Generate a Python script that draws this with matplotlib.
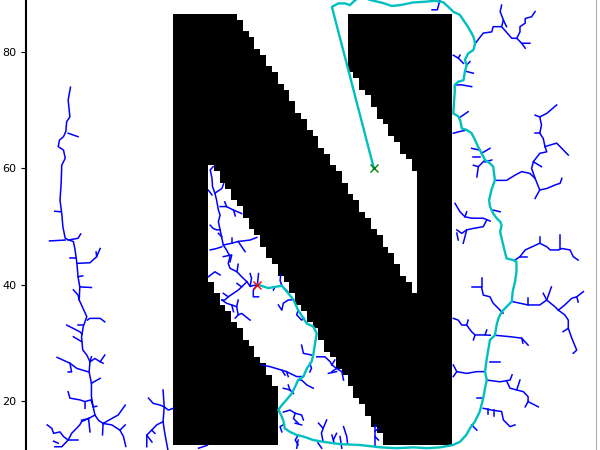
import numpy as np
import matplotlib.pyplot as plt
from matplotlib.path import Path

# occupancy grid: a letter N on a 100 x 100 map, 1 unit per cell
grid_size = 100
n_box = (25.5, 73.5, 12.5, 86.5)  # x0, x1, y0, y1 of the letter
upper_gap = [(35.4, 88.0), (55.5, 88.0), (55.5, 77.7), (67.5, 58.7), (67.5, 38.0)]
lower_gap = [(31.5, 60.6), (31.5, 40.8), (43.5, 22.2), (43.5, 10.0), (63.7, 10.0), (32.3, 60.6)]

start = (40, 40)
goal = (60, 60)

# final path found by the planner (start -> goal)
path_pts = [(40.0, 40.0), (41.9, 39.4), (43.0, 39.6), (44.2, 39.8), (45.3, 38.5), (46.2, 37.4),
            (47.0, 35.6), (48.5, 33.3), (49.6, 32.8), (50.2, 31.6), (49.9, 29.9), (49.6, 27.9),
            (49.3, 26.75), (48.5, 25.6), (47.9, 24.2), (47.0, 23.6), (46.5, 22.5), (45.9, 21.3),
            (45.0, 20.2), (44.2, 19.3), (43.6, 18.5), (44.2, 17.3), (44.5, 16.45), (44.7, 15.3),
            (45.6, 14.7), (46.75, 14.17), (47.9, 13.9), (49.6, 13.3), (51.3, 13.0), (54.2, 12.6),
            (57.6, 12.45), (61.1, 12.05), (63.9, 11.9), (66.8, 12.05), (69.1, 11.9), (71.4, 12.05),
            (73.6, 12.45), (74.8, 13.0), (75.9, 14.2), (76.5, 15.3), (77.35, 16.45), (78.2, 18.2),
            (78.8, 20.5), (79.1, 22.2), (79.4, 23.6), (79.1, 25.05), (79.4, 27.3), (79.7, 29.05),
            (79.95, 30.5), (80.8, 31.3), (81.1, 33.1), (81.4, 34.2), (82.0, 35.35), (82.8, 36.2),
            (83.7, 37.1), (83.85, 38.8), (84.25, 40.5), (84.5, 42.2), (84.5, 43.9), (83.95, 44.2),
            (82.8, 44.5), (82.5, 45.65), (81.95, 47.95), (81.7, 49.1), (81.95, 50.2), (81.7, 50.8),
            (81.1, 51.4), (80.5, 52.2), (79.95, 53.4), (79.8, 54.5), (80.2, 56.25), (80.8, 57.96),
            (80.5, 60.25), (79.95, 60.83), (79.1, 61.4), (78.5, 62.55), (77.9, 63.7), (77.4, 64.8),
            (76.8, 66.0), (75.95, 66.55), (75.1, 66.85), (74.9, 68.0), (74.5, 68.9), (73.65, 69.4),
            (73.8, 71.7), (73.9, 73.1), (73.9, 74.3), (74.5, 74.85), (75.4, 75.1), (75.65, 76.6),
            (75.95, 77.7), (75.65, 78.6), (76.2, 79.7), (77.1, 80.3), (77.4, 81.4), (77.1, 82.6),
            (76.5, 83.7), (75.95, 84.6), (75.4, 85.4), (74.8, 86.3), (73.65, 86.87), (72.8, 87.7),
            (71.9, 88.5), (70.5, 88.75), (69.0, 88.6), (66.7, 88.45), (64.5, 88.0), (63.1, 87.85),
            (61.6, 88.36), (59.3, 88.9), (57.8, 89.6), (56.5, 88.6), (55.9, 88.0), (55.05, 88.3),
            (53.9, 88.3), (52.8, 87.7), (60.0, 60.0)]

# tree branches, left of the letter
tree_left = [
    [(7.9, 73.9), (7.5, 71.7), (7.8, 68.8), (7.25, 68.0), (7.1, 66.3), (6.7, 65.4), (6.0, 64.8),
     (5.8, 63.7), (6.7, 63.1), (7.0, 61.7), (6.4, 60.5), (6.3, 57.4), (6.1, 54.5), (6.4, 52.2),
     (6.6, 49.9), (7.0, 47.95), (7.5, 47.7), (8.4, 47.4), (8.7, 45.9), (9.0, 43.65), (9.2, 41.35),
     (9.5, 39.6), (9.4, 37.35), (10.7, 34.5), (10.1, 32.8), (9.8, 31.0), (10.0, 28.8), (10.7, 27.9),
     (11.25, 26.75), (11.1, 25.0), (11.5, 23.05), (11.5, 20.75), (11.8, 19.0), (12.1, 17.6),
     (12.7, 16.7), (13.5, 16.15)],
    [(7.5, 66.0), (9.2, 65.4)],
    [(5.2, 52.6), (6.3, 52.5)],
    [(4.3, 47.5), (7.0, 47.65)],
    [(7.5, 47.65), (9.2, 47.95), (9.65, 48.7)],
    [(7.8, 44.5), (8.85, 44.5)],
    [(9.1, 43.65), (11.25, 43.75), (12.4, 44.8), (13.0, 46.2)],
    [(12.4, 44.8), (12.3, 45.6)],
    [(9.2, 41.35), (10.0, 41.5)],
    [(9.5, 39.6), (11.5, 39.5)],
    [(8.4, 39.1), (9.2, 38.2), (9.4, 37.35)],
    [(10.8, 33.9), (11.25, 34.2), (13.0, 34.2), (13.8, 33.6)],
    [(7.25, 33.05), (9.5, 31.9), (9.9, 31.5)],
    [(9.2, 33.05), (10.0, 33.05)],
    [(8.4, 31.05), (9.8, 30.2)],
    [(5.6, 27.5), (7.8, 26.5), (9.0, 25.6), (11.0, 25.0)],
    [(7.8, 26.5), (8.1, 25.0), (7.5, 25.0)],
    [(11.25, 26.75), (12.1, 27.3), (13.0, 26.75), (13.8, 27.9)],
    [(13.0, 26.75), (13.5, 26.5)],
    [(11.25, 26.75), (11.5, 27.6)],
    [(11.5, 23.05), (13.0, 23.9)],
    [(7.5, 21.6), (7.8, 20.5), (9.5, 20.2), (10.4, 19.9), (10.4, 18.75)],
    [(10.4, 19.9), (11.4, 20.2), (11.8, 19.0)],
    [(11.8, 19.0), (12.4, 19.1)],
    [(12.1, 17.6), (11.0, 17.0), (9.8, 16.7)],
    [(11.0, 17.0), (11.25, 14.7)],
    [(3.9, 15.9), (4.7, 15.3), (5.0, 14.45), (6.1, 14.7), (6.7, 13.9), (7.5, 13.3), (8.1, 14.45),
     (9.5, 15.9), (9.8, 16.45), (11.0, 17.0)],
    [(7.5, 13.3), (6.4, 12.15), (5.2, 12.15)],
    [(7.5, 13.3), (9.2, 13.3)],
    [(5.8, 12.75), (5.0, 13.1)],
    [(13.5, 16.15), (15.0, 17.0), (16.1, 17.6), (17.3, 19.3)],
    [(13.5, 16.15), (13.4, 14.2)],
    [(13.5, 16.15), (15.0, 15.9), (16.4, 15.0), (17.0, 13.9), (17.4, 12.2)],
    [(16.4, 15.0), (17.3, 15.9)],
    # small cluster under the left stem
    [(23.8, 21.9), (24.0, 19.0), (24.7, 18.45), (25.55, 18.75)],
    [(21.3, 20.5), (22.1, 19.6), (23.3, 19.3), (24.0, 19.0)],
    [(24.0, 19.0), (23.8, 16.45), (22.7, 15.9), (21.85, 15.0), (21.0, 14.15), (21.0, 12.15)],
    [(23.8, 16.45), (24.1, 14.45), (24.65, 11.5)],
    [(21.85, 15.0), (22.4, 14.45)],
    [(21.0, 14.15), (21.9, 12.95)],
    [(29.9, 11.9), (31.4, 12.4)],
]

# tree branches inside the lower gap of the N
tree_gap = [
    [(40.0, 40.0), (38.75, 39.7), (38.2, 40.5), (37.3, 41.35), (36.5, 42.2), (35.3, 42.8),
     (35.0, 43.65), (35.3, 44.8), (34.7, 45.95), (34.15, 46.8), (33.9, 47.95), (33.6, 49.4),
     (33.3, 50.8), (33.6, 51.95), (33.3, 52.8), (33.0, 54.5), (32.7, 55.7), (32.3, 56.8),
     (32.2, 58.25), (31.9, 59.7), (32.4, 60.25)],
    [(32.7, 55.7), (33.9, 56.5), (34.2, 57.3)],
    [(31.6, 56.2), (32.2, 55.4)],
    [(33.6, 53.4), (34.7, 53.4), (35.9, 52.8), (37.3, 52.2)],
    [(34.7, 53.4), (34.4, 54.2)],
    [(35.9, 52.8), (36.2, 51.8)],
    [(31.9, 50.2), (32.4, 49.65), (33.0, 49.4), (33.6, 49.4)],
    [(33.3, 48.8), (33.9, 48.2)],
    [(34.15, 46.8), (35.6, 47.1), (36.7, 47.4), (38.75, 47.65), (39.9, 48.1)],
    [(36.7, 47.4), (37.9, 45.65)],
    [(35.6, 47.1), (35.6, 47.95)],
    [(31.9, 45.95), (33.0, 46.2), (33.9, 46.5)],
    [(34.15, 44.8), (35.6, 45.1), (35.3, 43.9)],
    [(31.6, 41.35), (32.7, 42.2), (33.6, 41.65)],
    [(36.5, 42.2), (36.7, 43.5)],
    [(38.2, 40.5), (37.3, 39.6), (36.7, 39.05), (35.0, 37.9)],
    [(37.3, 39.6), (36.5, 40.2)],
    [(34.15, 38.5), (35.0, 37.9), (34.4, 37.35), (33.9, 37.35)],
    [(40.0, 40.0), (39.3, 39.05), (39.3, 37.9), (40.2, 37.9)],
    [(40.0, 40.0), (40.2, 41.9)],
    [(38.75, 39.7), (39.0, 41.1), (38.75, 41.9)],
    [(43.0, 39.6), (42.75, 39.05)],
    [(44.2, 39.8), (43.9, 40.7), (44.0, 41.6)],
    [(44.7, 39.3), (45.2, 38.8)],
    [(33.9, 37.35), (34.7, 36.8), (35.6, 36.5), (35.9, 35.35)],
    [(35.6, 36.5), (36.45, 36.2), (36.7, 37.35)],
    [(36.45, 36.2), (36.7, 34.8), (37.3, 35.05), (38.75, 33.9)],
    [(36.7, 34.8), (36.2, 34.25)],
    [(43.6, 36.5), (44.2, 35.6), (44.45, 36.8), (45.3, 37.35), (46.2, 37.4)],
    [(47.0, 35.6), (46.75, 34.8), (47.6, 33.9), (48.0, 34.25)],
    [(47.6, 29.6), (47.9, 28.2), (49.3, 27.9)],
    [(49.0, 26.5), (49.3, 25.6), (49.0, 25.0)],
    [(50.2, 27.6), (51.6, 27.6), (52.5, 26.75), (52.8, 26.2), (53.6, 25.6), (54.5, 25.05), (54.8, 23.6)],
    [(52.8, 26.2), (53.3, 27.05)],
    [(53.6, 25.6), (52.8, 25.05)],
    [(40.75, 26.2), (42.2, 25.9), (44.2, 25.3), (45.0, 25.05), (46.75, 24.2), (47.9, 24.2)],
    [(44.2, 25.3), (44.75, 24.45)],
    [(45.0, 25.05), (45.3, 24.2)],
    [(47.0, 23.6), (47.6, 23.6), (48.5, 22.75), (49.6, 22.2)],
    [(44.45, 22.2), (45.6, 21.9), (46.2, 21.3)],
    [(45.3, 22.75), (45.6, 21.9)],
    [(44.45, 18.1), (45.6, 18.45), (46.5, 17.9), (47.6, 17.6), (47.9, 16.75)],
    [(46.5, 17.9), (46.2, 17.0), (47.0, 16.2)],
    [(46.5, 16.2), (47.6, 15.9)],
    [(44.6, 16.0), (43.9, 15.6), (44.2, 14.7)],
    [(51.3, 13.0), (51.0, 14.5), (51.3, 15.3), (50.5, 16.2)],
    [(51.3, 15.3), (51.9, 16.75)],
    [(52.8, 14.15), (53.05, 13.3), (53.6, 14.45)],
    [(53.05, 13.3), (53.2, 12.7)],
    [(54.8, 15.6), (55.35, 13.9), (55.5, 12.6)],
    [(47.0, 13.3), (46.75, 11.9)],
    [(47.0, 14.15), (46.5, 13.3), (47.0, 12.45)],
    [(52.2, 24.75), (53.6, 25.05)],
    [(54.2, 13.9), (54.5, 11.9)],
    [(60.2, 12.3), (60.2, 13.9), (60.8, 13.3)],
    [(60.2, 13.9), (60.2, 15.9)],
    [(60.2, 14.8), (60.8, 15.3)],
    [(51.05, 11.9), (50.4, 12.8)],
]

# tree branches right of the letter
tree_right = [
    [(73.65, 34.2), (74.5, 33.9), (75.1, 33.05), (75.95, 33.05), (76.8, 31.9), (77.4, 31.35),
     (79.1, 31.35), (80.0, 31.3)],
    [(75.95, 33.05), (76.2, 33.9)],
    [(77.4, 31.35), (77.1, 30.5)],
    [(79.1, 31.35), (79.4, 32.2)],
    [(80.8, 31.3), (83.4, 31.05), (85.4, 30.8), (86.5, 29.6)],
    [(85.4, 30.8), (85.6, 29.95)],
    [(73.65, 26.2), (74.25, 25.05), (73.65, 24.2)],
    [(74.25, 25.05), (75.95, 24.75), (77.7, 25.05), (79.1, 25.05)],
    [(79.95, 26.75), (81.7, 26.75)],
    [(79.4, 23.6), (81.7, 23.3), (83.4, 23.6), (83.75, 24.5)],
    [(82.8, 23.45), (83.4, 22.2), (84.55, 21.9), (85.1, 23.6)],
    [(84.55, 21.9), (85.7, 21.6), (86.5, 20.75), (86.5, 19.9), (86.0, 19.0)],
    [(86.5, 19.9), (88.25, 19.0)],
    [(78.8, 18.75), (80.25, 18.45), (81.95, 18.2), (82.25, 16.75), (83.4, 15.6), (84.25, 15.9)],
    [(79.6, 18.6), (79.6, 17.75)],
    [(80.6, 18.45), (80.6, 17.4)],
    [(78.8, 20.45), (77.7, 20.45)],
    [(76.8, 15.9), (77.7, 15.0)],
    [(83.7, 37.1), (85.1, 36.8), (86.5, 36.5), (88.5, 36.5), (89.7, 37.35), (90.5, 39.6)],
    [(86.5, 36.5), (86.5, 37.65)],
    [(89.7, 37.35), (89.1, 38.5)],
    [(89.7, 37.35), (91.1, 36.2), (91.7, 35.6), (92.8, 36.5), (94.0, 37.65), (94.85, 37.9), (96.0, 38.8)],
    [(94.85, 37.9), (95.1, 37.0)],
    [(91.7, 35.6), (92.8, 34.8), (93.4, 33.9), (93.4, 32.5), (92.5, 31.9)],
    [(93.4, 32.5), (94.0, 30.8), (94.85, 28.75), (94.25, 28.2)],
    [(84.25, 44.2), (85.1, 44.8), (86.0, 45.95), (88.5, 47.1), (89.7, 46.5), (90.3, 45.95),
     (91.7, 45.95), (92.3, 46.2), (93.7, 45.95), (94.25, 44.8), (95.1, 44.2)],
    [(88.5, 47.1), (88.5, 48.2)],
    [(92.0, 46.1), (92.0, 48.5)],
    [(85.1, 44.8), (86.25, 44.8)],
    [(76.8, 39.6), (78.5, 39.6), (78.5, 41.1)],
    [(78.5, 39.6), (78.8, 38.2), (79.95, 37.9), (80.5, 36.8), (81.7, 35.6), (82.2, 35.1)],
    [(73.95, 53.95), (74.8, 52.5), (75.65, 51.65), (76.8, 51.4), (78.8, 51.4), (80.0, 50.9)],
    [(75.65, 51.65), (75.95, 52.5)],
    [(74.25, 49.4), (75.1, 48.8), (75.95, 49.4), (77.1, 49.65), (78.8, 49.95), (79.4, 51.1)],
    [(74.25, 48.85), (74.5, 47.65)],
    [(75.95, 49.4), (75.65, 48.2), (75.35, 47.1)],
    [(79.1, 61.4), (77.95, 60.25), (77.7, 58.5)],
    [(77.95, 60.25), (77.1, 60.5)],
    [(81.1, 57.9), (82.8, 57.9), (84.25, 58.8), (85.4, 59.4), (86.8, 59.1), (87.7, 58.25),
     (88.5, 56.25), (89.7, 56.5), (91.1, 57.1), (92.0, 57.4), (92.3, 58.25)],
    [(88.5, 56.25), (87.7, 54.8)],
    [(87.7, 58.25), (87.1, 59.95), (87.4, 61.1), (88.5, 62.55), (89.7, 62.8), (89.4, 63.7),
     (89.1, 65.1), (88.5, 66.0), (88.8, 67.4), (88.5, 68.8), (89.7, 69.4), (91.4, 70.85)],
    [(87.4, 61.1), (88.8, 60.25)],
    [(89.4, 63.7), (91.4, 64.3), (93.4, 62.25)],
    [(88.5, 66.0), (87.7, 66.0)],
    [(88.5, 68.8), (87.7, 69.1)],
    [(77.4, 81.4), (78.8, 83.2), (80.25, 83.4), (80.5, 84.3), (81.95, 84.3), (83.7, 82.3),
     (84.55, 82.3), (85.4, 81.45), (86.8, 81.45)],
    [(81.95, 84.3), (82.25, 85.45), (81.7, 86.9), (81.95, 88.0)],
    [(82.25, 85.45), (82.8, 84.3)],
    [(84.55, 82.3), (85.1, 83.4), (85.1, 84.3), (86.0, 84.9), (86.0, 85.7), (87.1, 86.0), (87.7, 86.9)],
    [(85.4, 81.45), (86.0, 80.6)],
    [(73.65, 79.4), (74.5, 78.9), (75.4, 78.0)],
    [(74.5, 78.9), (74.8, 79.4)],
    [(75.95, 77.7), (76.5, 78.3)],
    [(75.95, 76.6), (77.1, 76.3)],
    [(73.9, 74.3), (75.1, 74.3), (76.8, 74.0)],
    [(74.9, 68.8), (76.2, 69.7)],
    [(73.65, 66.0), (74.8, 66.3), (75.95, 66.55)],
    [(76.8, 63.4), (78.2, 63.1)],
    [(77.1, 61.95), (78.2, 61.95)],
    [(79.95, 63.4), (78.5, 62.55)],
    [(80.25, 61.4), (79.1, 61.05)],
    [(80.5, 52.8), (81.7, 52.5)],
    [(71.35, 88.8), (70.9, 87.2), (70.0, 87.2)],
]

# rasterise the letter onto the grid (cell centres at integers)
cols, rows = np.meshgrid(np.arange(grid_size), np.arange(grid_size))
centers = np.column_stack([cols.ravel(), rows.ravel()])
x0, x1, y0, y1 = n_box
occupied = ((centers[:, 0] > x0) & (centers[:, 0] < x1) &
            (centers[:, 1] > y0) & (centers[:, 1] < y1))
for gap in (upper_gap, lower_gap):
    occupied &= ~Path(gap).contains_points(centers)
grid = occupied.reshape(grid_size, grid_size).astype(float)

fig = plt.figure(figsize=(6, 4.5), dpi=100)
ax = fig.add_axes([26 / 600, 0, 570 / 600, 1])

ax.imshow(grid, cmap='binary', origin='lower', aspect='auto')

for branch in tree_left + tree_gap + tree_right:
    bx, by = zip(*branch)
    ax.plot(bx, by, color='b', lw=1.1)

px, py = zip(*path_pts)
ax.plot(px, py, color='c', lw=1.7)

ax.plot(start[0], start[1], 'rx', ms=6)
ax.plot(goal[0], goal[1], 'gx', ms=6)

ax.set_xlim(0.26, 98.16)
ax.set_ylim(11.59, 88.88)
ax.set_xticks([])
ax.set_yticks([20, 40, 60, 80])
ax.tick_params(axis='y', labelsize=8)
ax.spines['top'].set_visible(False)
ax.spines['bottom'].set_visible(False)
ax.spines['left'].set_linewidth(1.5)
ax.spines['right'].set_color('#b0b0b0')

fig.savefig('out.png', dpi=100)
